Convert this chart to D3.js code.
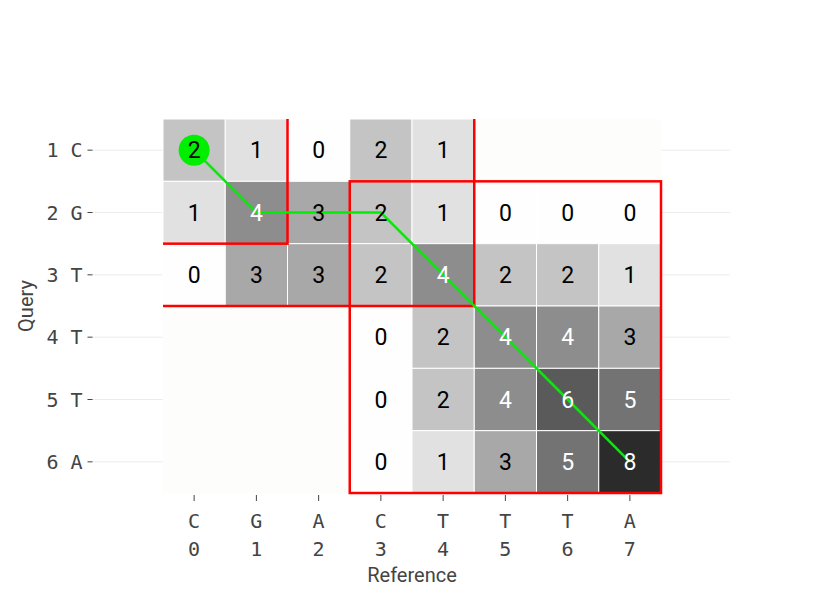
<!DOCTYPE html>
<html>
<head>
<meta charset="utf-8">
<script src="https://cdn.jsdelivr.net/npm/d3@7"></script>
<style>
  html, body { margin: 0; padding: 0; background: #ffffff; }
  svg { display: block; }
</style>
</head>
<body>
<svg id="chart" width="830" height="595"></svg>
<script>
// ---- data ----
const referenceSeq = ["C", "G", "A", "C", "T", "T", "T", "A"];
const referenceIdx = ["0", "1", "2", "3", "4", "5", "6", "7"];
const querySeq = ["C", "G", "T", "T", "T", "A"];
const queryIdx = ["1", "2", "3", "4", "5", "6"];
const scores = [
  [2, 1, 0, 2, 1, null, null, null],
  [1, 4, 3, 2, 1, 0, 0, 0],
  [0, 3, 3, 2, 4, 2, 2, 1],
  [null, null, null, 0, 2, 4, 4, 3],
  [null, null, null, 0, 2, 4, 6, 5],
  [null, null, null, 0, 1, 3, 5, 8]
];
// traceback path (column index, row index)
const pathCols = [0, 1, 2, 3, 4, 5, 6, 7];
const pathRows = [0, 1, 1, 1, 2, 3, 4, 5];
// highlighted regions in cell indices (inclusive)
const regionColStart = [-2, -2, 3];
const regionColEnd   = [1, 4, 7];
const regionRowStart = [-2, -2, 1];
const regionRowEnd   = [1, 2, 5];
const xTitle = "Reference";
const yTitle = "Query";

// ---- layout ----
const svg = d3.select("#chart");
const panel = { left: 163, right: 661, top: 119, bottom: 493 };

const x = d3.scaleBand().domain(d3.range(referenceSeq.length)).range([panel.left, panel.right]);
const y = d3.scaleBand().domain(d3.range(querySeq.length)).range([panel.top, panel.bottom]);
const color = d3.scaleLinear().domain([0, 8]).range(["#fefefe", "#2b2b2b"]).interpolate(d3.interpolateLab);

const edgeX = c => panel.left + c * x.step();
const edgeY = r => panel.top + r * y.step();

// gridlines (row centres)
svg.append("g")
  .selectAll("line")
  .data(d3.range(querySeq.length))
  .join("line")
  .attr("x1", 92).attr("x2", 730)
  .attr("y1", d => y(d) + y.bandwidth() / 2)
  .attr("y2", d => y(d) + y.bandwidth() / 2)
  .attr("stroke", "#ececec")
  .attr("stroke-width", 1);

// panel background
svg.append("rect")
  .attr("x", panel.left).attr("y", panel.top)
  .attr("width", panel.right - panel.left)
  .attr("height", panel.bottom - panel.top)
  .attr("fill", "#fdfdfb");

// cells
const cells = [];
scores.forEach((row, r) => row.forEach((v, c) => cells.push({ r, c, v })));

svg.append("g")
  .selectAll("rect")
  .data(cells.filter(d => d.v !== null))
  .join("rect")
  .attr("x", d => x(d.c))
  .attr("y", d => y(d.r))
  .attr("width", x.bandwidth())
  .attr("height", y.bandwidth())
  .attr("fill", d => color(d.v))
  .attr("stroke", "#ffffff")
  .attr("stroke-width", 1);

// clip for region boxes
svg.append("clipPath").attr("id", "panelClip")
  .append("rect")
  .attr("x", panel.left).attr("y", panel.top)
  .attr("width", panel.right - panel.left + 3)
  .attr("height", panel.bottom - panel.top + 3);

svg.append("g")
  .attr("clip-path", "url(#panelClip)")
  .selectAll("rect")
  .data(d3.range(regionColStart.length))
  .join("rect")
  .attr("x", i => edgeX(regionColStart[i]))
  .attr("y", i => edgeY(regionRowStart[i]))
  .attr("width", i => edgeX(regionColEnd[i] + 1) - edgeX(regionColStart[i]))
  .attr("height", i => edgeY(regionRowEnd[i] + 1) - edgeY(regionRowStart[i]))
  .attr("fill", "none")
  .attr("stroke", "#ff0000")
  .attr("stroke-width", 2.5);

// path
const cx = c => x(c) + x.bandwidth() / 2;
const cy = r => y(r) + y.bandwidth() / 2;
const pathPts = pathCols.map((c, i) => [cx(c), cy(pathRows[i])]);
svg.append("path")
  .attr("d", d3.line()(pathPts))
  .attr("fill", "none")
  .attr("stroke", "#00ee00")
  .attr("stroke-width", 2.5);
svg.append("circle")
  .attr("cx", pathPts[0][0])
  .attr("cy", pathPts[0][1])
  .attr("r", 15.5)
  .attr("fill", "#00ee00");

// cell labels
svg.append("g")
  .selectAll("text")
  .data(cells.filter(d => d.v !== null))
  .join("text")
  .attr("x", d => cx(d.c))
  .attr("y", d => cy(d.r) + 8.2)
  .attr("text-anchor", "middle")
  .attr("font-family", "Roboto, sans-serif")
  .attr("font-size", 23)
  .attr("fill", d => d.v >= 4 ? "#ffffff" : "#000000")
  .text(d => d.v);

// y axis
const yAxis = d3.axisLeft(y)
  .tickSize(5)
  .tickPadding(5)
  .tickFormat(i => queryIdx[i] + " " + querySeq[i]);
const gy = svg.append("g").attr("transform", "translate(92.5,0)").call(yAxis);
gy.select(".domain").remove();
gy.selectAll(".tick line").attr("stroke", "#444");
gy.selectAll(".tick text")
  .attr("font-family", "'DejaVu Sans Mono', monospace")
  .attr("font-size", 20)
  .attr("fill", "#444")
  .attr("dy", "0.36em");

// x axis
const xAxis = d3.axisBottom(x).tickSize(6).tickFormat("");
const gx = svg.append("g").attr("transform", "translate(0,495)").call(xAxis);
gx.select(".domain").remove();
gx.selectAll(".tick line").attr("stroke", "#444");
gx.selectAll(".tick text").remove();
gx.selectAll(".tick").each(function (i) {
  const t = d3.select(this).append("text")
    .attr("text-anchor", "middle")
    .attr("font-family", "'DejaVu Sans Mono', monospace")
    .attr("font-size", 20)
    .attr("fill", "#444");
  t.append("tspan").attr("x", 0).attr("y", 33).text(referenceSeq[i]);
  t.append("tspan").attr("x", 0).attr("y", 61).text(referenceIdx[i]);
});

// axis titles
svg.append("text")
  .attr("x", (panel.left + panel.right) / 2)
  .attr("y", 582)
  .attr("text-anchor", "middle")
  .attr("font-family", "Roboto, sans-serif")
  .attr("font-size", 20)
  .attr("fill", "#444")
  .text(xTitle);

svg.append("text")
  .attr("transform", `translate(33,${(panel.top + panel.bottom) / 2}) rotate(-90)`)
  .attr("text-anchor", "middle")
  .attr("font-family", "Roboto, sans-serif")
  .attr("font-size", 20)
  .attr("fill", "#444")
  .text(yTitle);
</script>
</body>
</html>
